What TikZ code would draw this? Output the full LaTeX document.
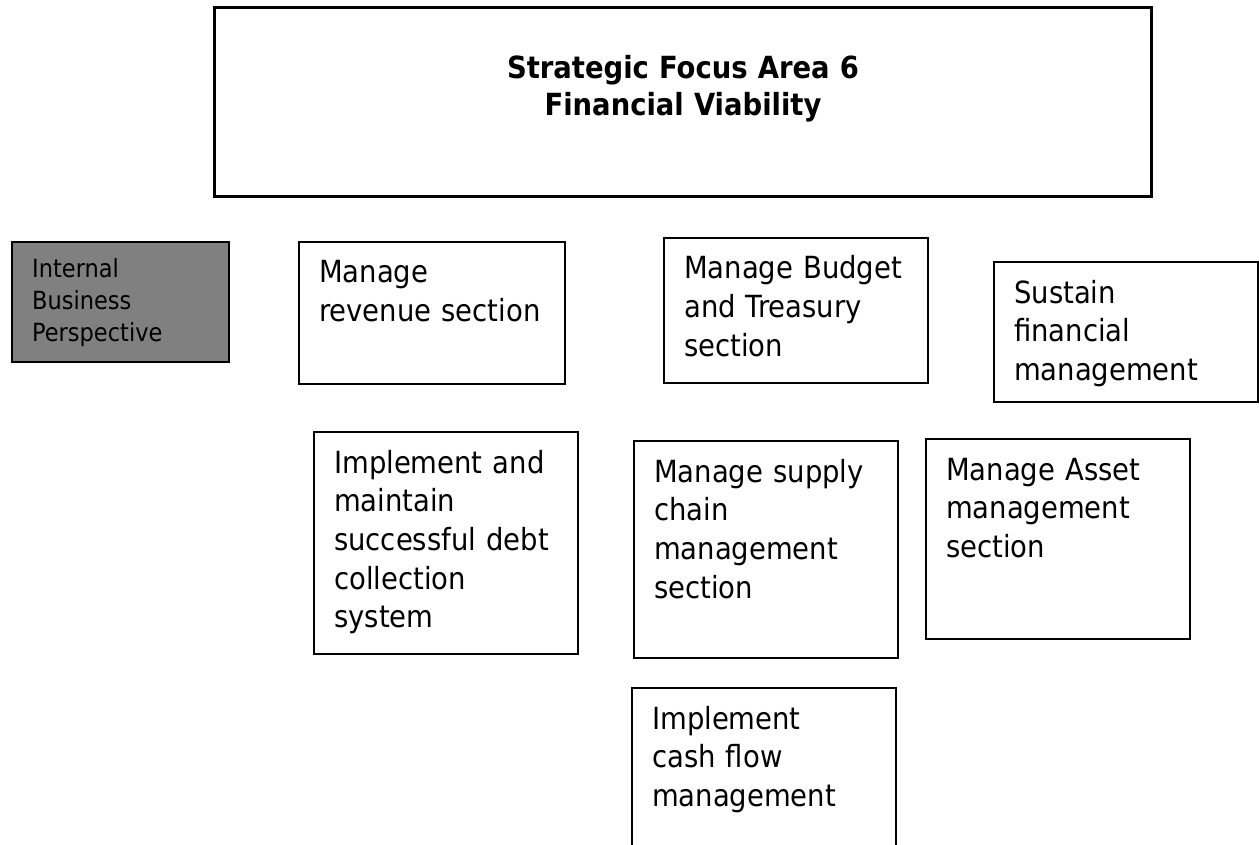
\documentclass[tikz,border=0pt]{standalone}
\usepackage{fontspec}
\setmainfont{DejaVu Sans Condensed}
\usepackage{xcolor}
\usetikzlibrary{positioning}
\definecolor{perspgrey}{RGB}{128,128,128}

\begin{document}
\begin{tikzpicture}[x=1pt, y=-1pt]
            % Block styles
            \tikzstyle{block} = [rectangle, draw, line width=1.8pt, anchor=north west, inner sep=0pt, minimum width=264pt]
            \tikzstyle{block_title} = [block, line width=3pt]
            \tikzstyle{block_grey} = [block, fill=perspgrey]
            \tikzstyle{block_text} = [anchor=base west, align=left, inner sep=0pt, text width=250pt, font=\fontsize{30.5}{38.7}\selectfont]
            \tikzstyle{small_text} = [block_text, text width=200pt, font=\fontsize{25}{32}\selectfont]
            \tikzstyle{title_text} = [anchor=base, align=center, inner sep=0pt, text width=500pt, font=\fontsize{30.5}{37}\selectfont\bfseries]
            \useasboundingbox (0,0) rectangle (1259,845);
            \clip (0,0) rectangle (1259,845);
            % Focus area
            \node[block_title, minimum width=937pt, minimum height=189pt] (sfa) at (213,6) {};
            \node[title_text] (sfa_text) at ([yshift=-73pt]sfa.north) {Strategic Focus Area 6\\Financial Viability};
            % Perspective
            \node[block_grey, minimum width=217pt, minimum height=120pt] (ibp) at (11,241) {};
            \node[small_text] (ibp_text) at ([xshift=21pt, yshift=-37pt]ibp.north west) {Internal\\Business\\Perspective};
            % Objectives
            \node[block, minimum width=266pt, minimum height=142pt] (revenue) at (298,241) {};
            \node[block, minimum height=145pt] (budget) at (663,237) {};
            \node[block, minimum height=140pt] (sustain) at (993,261) {};
            \node[block, minimum height=222pt] (debt) at (313,431) {};
            \node[block, minimum height=217pt] (supply) at (633,440) {};
            \node[block, minimum height=200pt] (asset) at (925,438) {};
            \node[block, minimum height=200pt] (cash) at (631,687) {};
            \node[block_text] (revenue_text) at ([xshift=21pt, yshift=-42pt]revenue.north west) {Manage\\revenue section};
            \node[block_text] (budget_text) at ([xshift=21pt, yshift=-42pt]budget.north west) {Manage Budget\\and Treasury\\section};
            \node[block_text] (sustain_text) at ([xshift=21pt, yshift=-42pt]sustain.north west) {Sustain\\financial\\management};
            \node[block_text] (debt_text) at ([xshift=21pt, yshift=-42pt]debt.north west) {Implement and\\maintain\\successful debt\\collection\\system};
            \node[block_text] (supply_text) at ([xshift=21pt, yshift=-42pt]supply.north west) {Manage supply\\chain\\management\\section};
            \node[block_text] (asset_text) at ([xshift=21pt, yshift=-42pt]asset.north west) {Manage Asset\\management\\section};
            \node[block_text] (cash_text) at ([xshift=21pt, yshift=-42pt]cash.north west) {Implement\\cash flow\\management};
        \end{tikzpicture}
\end{document}
